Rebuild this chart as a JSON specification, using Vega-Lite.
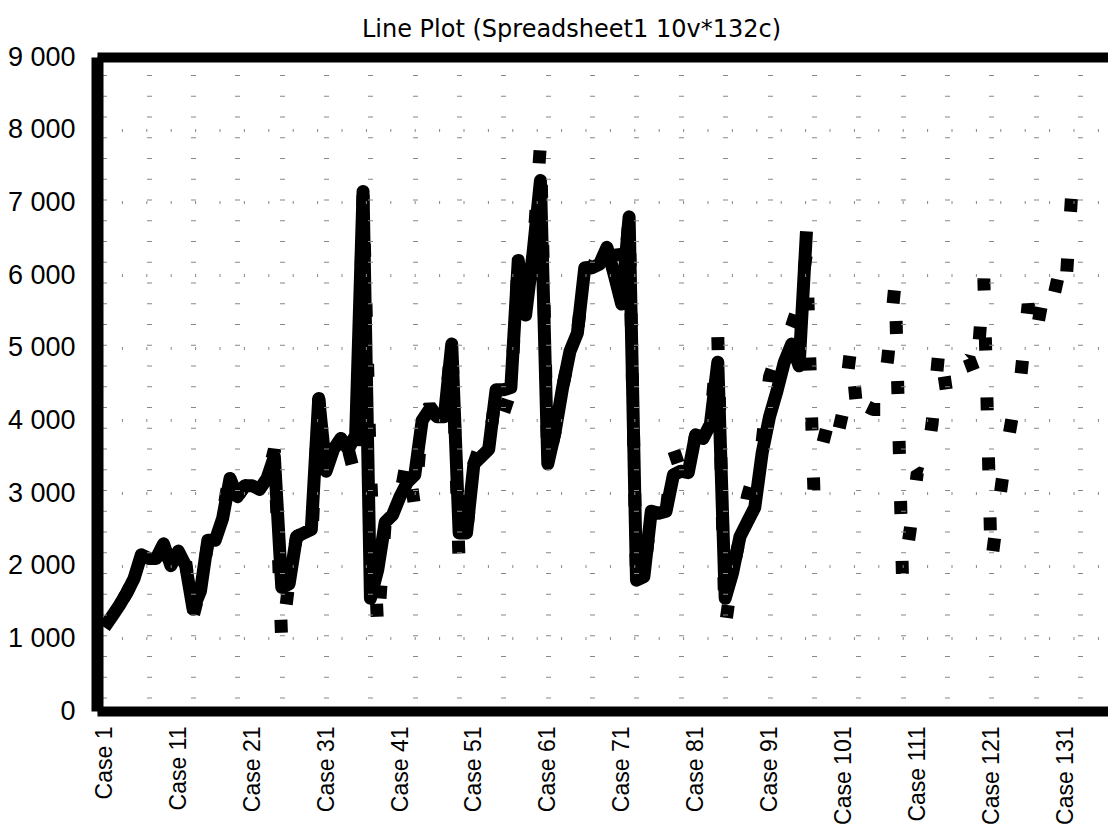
{
  "$schema": "https://vega.github.io/schema/vega-lite/v6.json",
  "width": 1011,
  "height": 654,
  "autosize": {"type": "none"},
  "padding": {"left": 97, "top": 57, "right": 0, "bottom": 114},
  "background": "white",
  "config": {"view": {"stroke": null}},
  "title": {"text": "Line Plot (Spreadsheet1 10v*132c)", "font": "DejaVu Sans", "fontSize": 24, "fontWeight": "normal", "color": "black", "anchor": "middle", "dx": -31, "offset": 1},
  "datasets": {
    "a": [
      {"case":1,"value":1150},{"case":2,"value":1300},{"case":3,"value":1450},{"case":4,"value":1620},{"case":5,"value":1820},
      {"case":6,"value":2150},{"case":7,"value":2100},{"case":8,"value":2100},{"case":9,"value":2300},{"case":10,"value":2000},
      {"case":11,"value":2200},{"case":12,"value":2000},{"case":13,"value":1400},{"case":14,"value":1650},{"case":15,"value":2350},
      {"case":16,"value":2350},{"case":17,"value":2650},{"case":18,"value":3200},{"case":19,"value":2950},{"case":20,"value":3100},
      {"case":21,"value":3100},{"case":22,"value":3050},{"case":23,"value":3200},{"case":24,"value":3500},{"case":25,"value":1700},
      {"case":26,"value":1750},{"case":27,"value":2400},{"case":28,"value":2450},{"case":29,"value":2500},{"case":30,"value":4300},
      {"case":31,"value":3300},{"case":32,"value":3600},{"case":33,"value":3750},{"case":34,"value":3600},{"case":35,"value":3800},
      {"case":36,"value":7150},{"case":37,"value":1550},{"case":38,"value":1950},{"case":39,"value":2600},{"case":40,"value":2700},
      {"case":41,"value":2950},{"case":42,"value":3150},{"case":43,"value":3250},{"case":44,"value":4000},{"case":45,"value":4150},
      {"case":46,"value":4050},{"case":47,"value":4050},{"case":48,"value":5050},{"case":49,"value":2450},{"case":50,"value":2450},
      {"case":51,"value":3400},{"case":52,"value":3500},{"case":53,"value":3600},{"case":54,"value":4420},{"case":55,"value":4420},
      {"case":56,"value":4450},{"case":57,"value":6200},{"case":58,"value":5450},{"case":59,"value":6300},{"case":60,"value":7300},
      {"case":61,"value":3400},{"case":62,"value":3850},{"case":63,"value":4450},{"case":64,"value":4950},{"case":65,"value":5200},
      {"case":66,"value":6100},{"case":67,"value":6100},{"case":68,"value":6150},{"case":69,"value":6380},{"case":70,"value":6000},
      {"case":71,"value":5600},{"case":72,"value":6800},{"case":73,"value":1800},{"case":74,"value":1850},{"case":75,"value":2750},
      {"case":76,"value":2720},{"case":77,"value":2750},{"case":78,"value":3250},{"case":79,"value":3300},{"case":80,"value":3280},
      {"case":81,"value":3800},{"case":82,"value":3750},{"case":83,"value":3950},{"case":84,"value":4800},{"case":85,"value":1550},
      {"case":86,"value":1900},{"case":87,"value":2400},{"case":88,"value":2600},{"case":89,"value":2800},{"case":90,"value":3550},
      {"case":91,"value":4050},{"case":92,"value":4400},{"case":93,"value":4800},{"case":94,"value":5050},{"case":95,"value":4750},
      {"case":96,"value":6600}
    ],
    "b": [
      {"case":1,"value":1150},{"case":2,"value":1250},{"case":3,"value":1450},{"case":4,"value":1620},{"case":5,"value":1820},
      {"case":6,"value":2000},{"case":7,"value":2050},{"case":8,"value":2000},{"case":9,"value":2300},{"case":10,"value":2050},
      {"case":11,"value":1900},{"case":12,"value":2050},{"case":13,"value":1300},{"case":14,"value":1700},{"case":15,"value":2300},
      {"case":16,"value":2350},{"case":17,"value":2700},{"case":18,"value":3300},{"case":19,"value":2950},{"case":20,"value":3100},
      {"case":21,"value":3100},{"case":22,"value":3050},{"case":23,"value":3200},{"case":24,"value":3600},{"case":25,"value":950},
      {"case":26,"value":1800},{"case":27,"value":2400},{"case":28,"value":2450},{"case":29,"value":2250},{"case":30,"value":4300},
      {"case":31,"value":3350},{"case":32,"value":3600},{"case":33,"value":3750},{"case":34,"value":3600},{"case":35,"value":3200},
      {"case":36,"value":7100},{"case":37,"value":3300},{"case":38,"value":1100},{"case":39,"value":2600},{"case":40,"value":2700},
      {"case":41,"value":2950},{"case":42,"value":3500},{"case":43,"value":2800},{"case":44,"value":4000},{"case":45,"value":4200},
      {"case":46,"value":4050},{"case":47,"value":4050},{"case":48,"value":5100},{"case":49,"value":2050},{"case":50,"value":2450},
      {"case":51,"value":3400},{"case":52,"value":3700},{"case":53,"value":3600},{"case":54,"value":4420},{"case":55,"value":4100},
      {"case":56,"value":4400},{"case":57,"value":6200},{"case":58,"value":5450},{"case":59,"value":6300},{"case":60,"value":7800},
      {"case":61,"value":3400},{"case":62,"value":3850},{"case":63,"value":4450},{"case":64,"value":4950},{"case":65,"value":5200},
      {"case":66,"value":6100},{"case":67,"value":6100},{"case":68,"value":6300},{"case":69,"value":6400},{"case":70,"value":6550},
      {"case":71,"value":5600},{"case":72,"value":6800},{"case":73,"value":1800},{"case":74,"value":1850},{"case":75,"value":2750},
      {"case":76,"value":2720},{"case":77,"value":2750},{"case":78,"value":3600},{"case":79,"value":3300},{"case":80,"value":3280},
      {"case":81,"value":3800},{"case":82,"value":3750},{"case":83,"value":3950},{"case":84,"value":5150},{"case":85,"value":1150},
      {"case":86,"value":1900},{"case":87,"value":2400},{"case":88,"value":2950},{"case":89,"value":3300},{"case":90,"value":3700},
      {"case":91,"value":4600},{"case":92,"value":4900},{"case":93,"value":5050},{"case":94,"value":5300},{"case":95,"value":5600},
      {"case":96,"value":6300},{"case":97,"value":3050},{"case":98,"value":3600},{"case":99,"value":4000},{"case":100,"value":3700},
      {"case":101,"value":4150},{"case":102,"value":5000},{"case":103,"value":3950},{"case":104,"value":4200},{"case":105,"value":4150},
      {"case":106,"value":4150},{"case":107,"value":4850},{"case":108,"value":5900},{"case":109,"value":1800},{"case":110,"value":2470},
      {"case":111,"value":3280},{"case":112,"value":3250},{"case":113,"value":3960},{"case":114,"value":5050},{"case":115,"value":4360},
      {"case":116,"value":4560},{"case":117,"value":4760},{"case":118,"value":4850},{"case":119,"value":4580},{"case":120,"value":5950},
      {"case":121,"value":2020},{"case":122,"value":2820},{"case":123,"value":3560},{"case":124,"value":4140},{"case":125,"value":4600},
      {"case":126,"value":5600},{"case":127,"value":5150},{"case":128,"value":5700},{"case":129,"value":5500},{"case":130,"value":5950},
      {"case":131,"value":5690},{"case":132,"value":7300}
    ]
  },
  "encoding": {
    "y": {
      "field": "value", "type": "quantitative",
      "scale": {"domain": [0, 9000], "nice": false, "zero": true},
      "axis": {
        "values": [0,1000,2000,3000,4000,5000,6000,7000,8000,9000],
        "format": ",d", "labelExpr": "replace(datum.label, ',', ' ')",
        "title": null, "domain": true, "domainColor": "black", "domainWidth": 12,
        "ticks": false, "tickSize": 0,
        "labelFont": "Liberation Sans", "labelFontSize": 27, "labelColor": "black", "labelPadding": 22,
        "labelOverlap": false, "labelFlush": false, "labelBound": false,
        "grid": true, "gridColor": "#888888", "gridWidth": 3, "gridDash": [1, 23.4], "gridOpacity": 1,
        "zindex": 1
      }
    }
  },
  "layer": [
    {
      "data": {"name": "b"},
      "mark": {"type": "line", "color": "black", "strokeWidth": 13, "strokeDash": [13, 47], "strokeDashOffset": 25, "strokeCap": "butt", "strokeJoin": "bevel"},
      "encoding": {
        "x": {
          "field": "case", "type": "quantitative",
          "scale": {"domain": [0, 136.8], "nice": false, "zero": false},
          "axis": {
            "orient": "top", "values": [1,7,13,19,25,31,37,43,49,55,61,67,73,79,85,91,97,103,109,115,121,127,133],
            "labels": false, "ticks": false, "tickSize": 0, "title": null,
            "domain": true, "domainColor": "black", "domainWidth": 10,
            "grid": true, "gridColor": "#888888", "gridWidth": 5, "gridDash": [1, 19.75], "gridDashOffset": 7.7, "gridOpacity": 1,
            "zindex": 1
          }
        }
      }
    },
    {
      "data": {"name": "a"},
      "mark": {"type": "line", "color": "black", "strokeWidth": 13, "strokeCap": "butt", "strokeJoin": "round"},
      "encoding": {
        "x": {
          "field": "case", "type": "quantitative",
          "axis": {
            "orient": "bottom", "values": [1,11,21,31,41,51,61,71,81,91,101,111,121,131],
            "labelExpr": "'Case ' + datum.value", "labelAngle": -90, "labelAlign": "right", "labelBaseline": "middle",
            "labelFont": "Liberation Sans", "labelFontSize": 23, "labelColor": "black", "labelPadding": 15,
            "labelOverlap": false, "labelFlush": false, "labelBound": false,
            "ticks": false, "tickSize": 0, "title": null,
            "domain": true, "domainColor": "black", "domainWidth": 10,
            "grid": false, "zindex": 1
          }
        }
      }
    }
  ],
  "resolve": {"axis": {"x": "independent"}}
}
